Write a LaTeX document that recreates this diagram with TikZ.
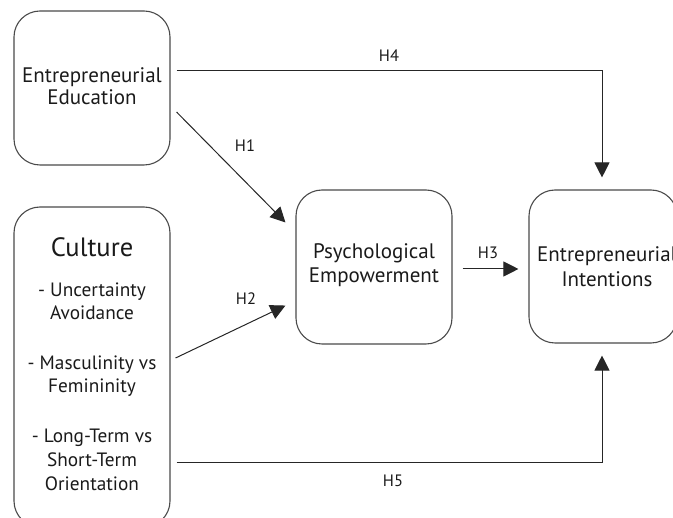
\documentclass[tikz,border=0pt]{standalone}
\usepackage{fontspec}
\setmainfont{PT Sans}
\usetikzlibrary{arrows.meta}
\definecolor{boxline}{HTML}{4A4A4A}
\definecolor{ink}{HTML}{1A1A1A}
\begin{document}
\begin{tikzpicture}[x=1pt,y=-1pt,
  box/.style={draw=boxline,line width=1.1pt,rounded corners=26pt,inner sep=0pt},
  conn/.style={draw=black!85,line width=1pt,-{Triangle[length=15pt,width=15pt]}},
  txt/.style={align=center,text=ink,font=\fontsize{19.3}{23.5}\selectfont,anchor=base},
  btxt/.style={txt,font=\fontsize{21}{24}\selectfont},
  lbl/.style={text=ink,font=\fontsize{16.5}{19}\selectfont}]
\useasboundingbox (0,0) rectangle (673,518);
\begin{scope}
\clip (0,0) rectangle (673,518);
\node[box,minimum width=156pt,minimum height=154pt] (EE) at (92,88) {};
\node[box,minimum width=156pt,minimum height=320pt] (CU) at (92,367) {};
\node[box,minimum width=156pt,minimum height=154pt] (PE) at (374,267) {};
\node[box,minimum width=148pt,minimum height=153pt] (EI) at (603,266.5) {};
\node[btxt] (ee1) at (92,83) {Entrepreneurial};
\node[btxt] (ee2) at (92,105) {Education};
\node[btxt] (pe1) at (374,259) {Psychological};
\node[btxt] (pe2) at (374,283) {Empowerment};
\node[btxt] (ei1) at (607,262) {Entrepreneurial};
\node[btxt] (ei2) at (607,287) {Intentions};
\end{scope}
\node[txt,font=\fontsize{26.5}{28}\selectfont] (cut) at (92,257) {Culture};
\node[txt] (c1a) at (92,297) {- Uncertainty};
\node[txt] (c1b) at (92,320) {Avoidance};
\node[txt] (c2a) at (92,370) {- Masculinity vs};
\node[txt] (c2b) at (92,393) {Femininity};
\node[txt] (c3a) at (92,443) {- Long-Term vs};
\node[txt] (c3b) at (92,467) {Short-Term};
\node[txt] (c3c) at (92,491) {Orientation};
\draw[conn] ([xshift=6pt,yshift=17pt]EE.east) -| ([xshift=-1pt,yshift=12pt]EI.north);
\draw[conn] ([xshift=6pt,yshift=-24pt]EE.east) -- ([xshift=-10pt,yshift=-33pt]PE.north west);
\draw[conn] ([xshift=5pt,yshift=9pt]CU.east) -- ([xshift=-10pt,yshift=39pt]PE.south west);
\draw[conn] ([xshift=10pt,yshift=-2pt]PE.east) -- ([xshift=-10pt,yshift=-2.5pt]EI.west);
\draw[conn] ([xshift=6pt,yshift=-96pt]CU.east) -| ([xshift=-1pt,yshift=-12pt]EI.south);
\node[lbl] (h4) at (389,56) {H4};
\node[lbl] (h1) at (245,146) {H1};
\node[lbl] (h2) at (246,299) {H2};
\node[lbl] (h3) at (488,253) {H3};
\node[lbl] (h5) at (393,481) {H5};
\end{tikzpicture}
\end{document}
